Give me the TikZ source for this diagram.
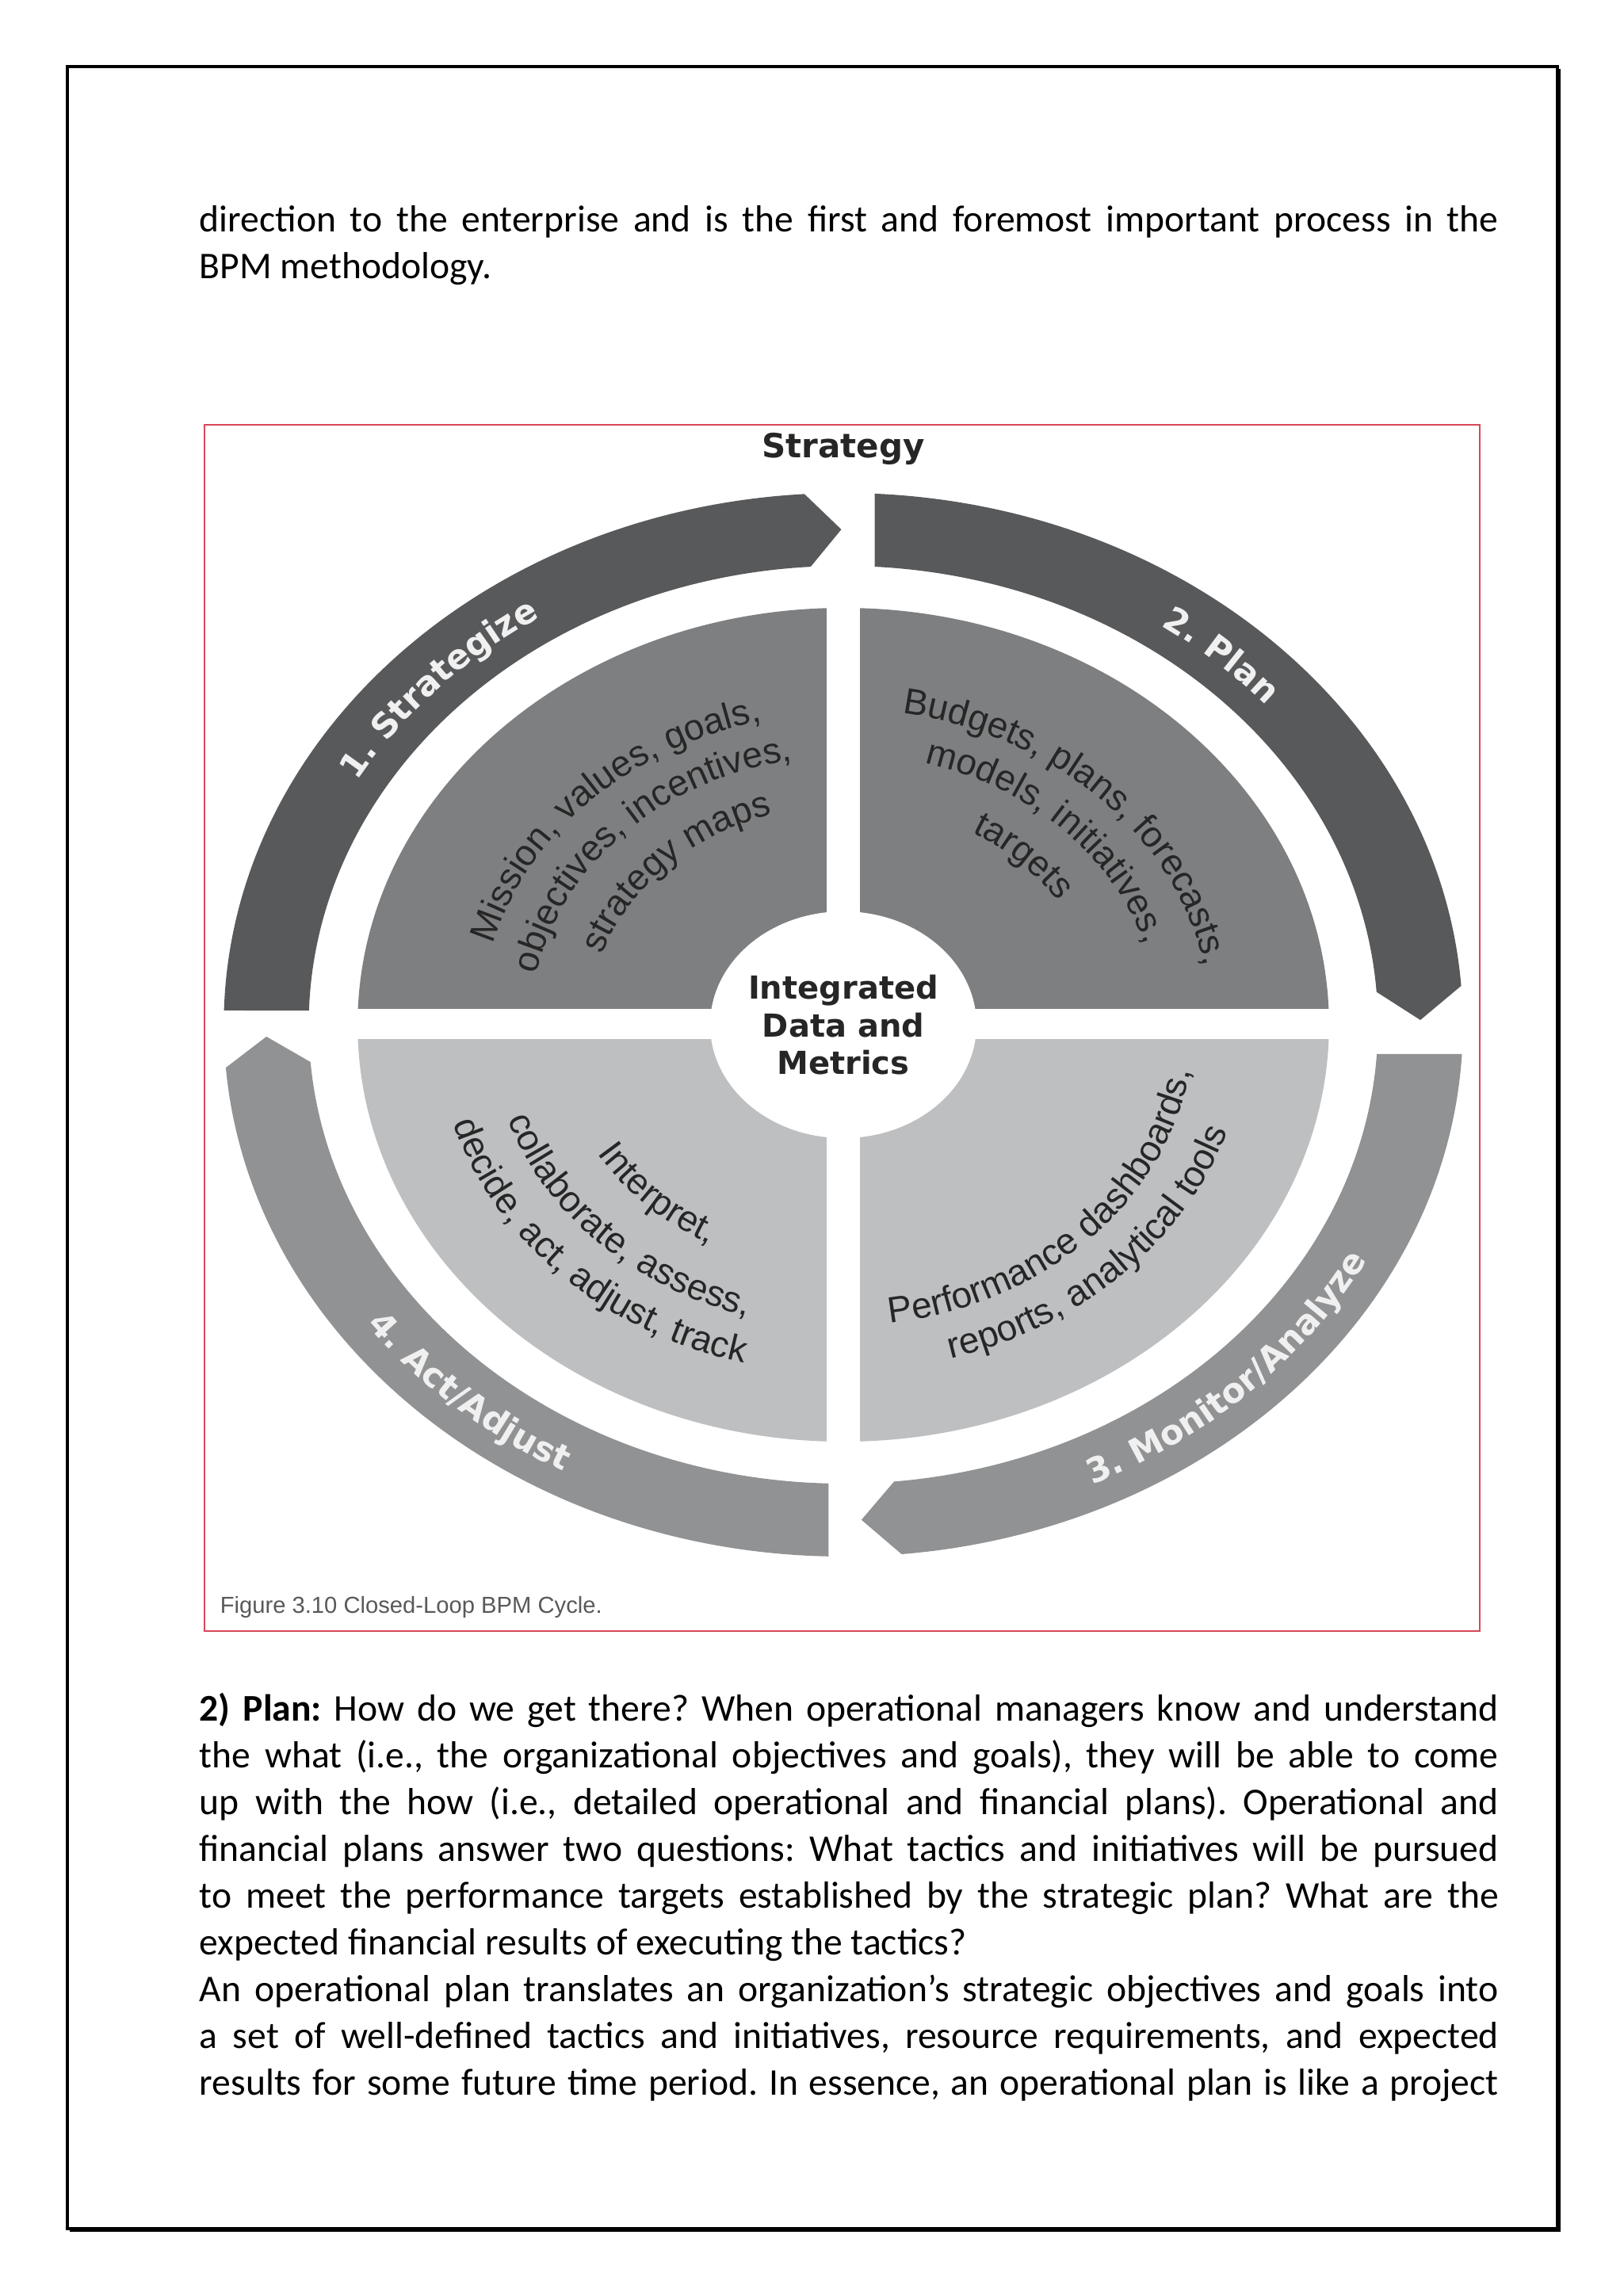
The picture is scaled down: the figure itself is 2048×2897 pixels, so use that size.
\documentclass[tikz,border=0pt]{standalone}
\usepackage{fontspec}
\setmainfont{Carlito}
\newfontfamily\ringfont{DejaVu Sans}
\newfontfamily\quadfont{Liberation Sans}
\usetikzlibrary{decorations.text}
\definecolor{ringdark}{RGB}{88,89,91}
\definecolor{ringmid}{RGB}{145,146,148}
\definecolor{quadtop}{RGB}{126,127,129}
\definecolor{quadbot}{RGB}{190,191,193}
\definecolor{ink}{RGB}{38,38,38}
\definecolor{ringwhite}{RGB}{240,240,240}
\definecolor{figred}{RGB}{214,72,88}
\tikzstyle{para} = [anchor=base west, inner sep=0pt, font=\frenchspacing\fontsize{11.9}{14}\selectfont]
\tikzstyle{hub} = [anchor=base, inner sep=0pt, text=ink, font=\ringfont\bfseries\fontsize{10}{12}\selectfont]
\tikzstyle{ringlabel} = [decorate, decoration={text along path, text align=center, text color=ringwhite}]
\tikzstyle{quadlabel} = [decorate, decoration={text along path, text align=center, text color=ink}]
\newcommand{\jl}[1]{\hbox to 409.75pt{#1}}
\newcommand{\rl}{\ringfont\bfseries\fontsize{10.75}{12}\selectfont}
\newcommand{\ql}{\quadfont\fontsize{11.5}{13}\selectfont}
\frenchspacing

\begin{document}
\begin{tikzpicture}[x=0.25pt, y=0.25pt]
  \useasboundingbox (0,0) rectangle (2048,-2897);
  \draw [line width=0.8pt] (85,-84) rectangle (1965,-2812);
  \draw [line width=0.5pt] (1967.5,-87) -- (1967.5,-2814.5) -- (88,-2814.5);

  % text above the figure
  \node (a) at (251,-293) [para] {\jl{direction to the enterprise and is the first and foremost important process in the}};
  \node (b) at (251,-352) [para] {BPM methodology.};

  % figure
  \draw [figred, line width=0.5pt] (258,-536) rectangle (1867,-2058);
  \node (s) at (1064,-578) [hub, font=\ringfont\bfseries\fontsize{10.5}{12}\selectfont] {Strategy};

  \begin{scope}[shift={(1064,-1293)}]
    % inner quarters
    \fill [quadtop] (0:612.8 and 526) arc [start angle=0, end angle=180, x radius=612.8, y radius=526] -- cycle;
    \fill [quadbot] (180:612.8 and 526) arc [start angle=180, end angle=360, x radius=612.8, y radius=526] -- cycle;
    \fill [white] (-21,-560) rectangle (21,560);
    \fill [white] (-660,-18) rectangle (660,20);
    \fill [white] (0,0) ellipse [x radius=168, y radius=143];

    % outer ring
    \fill [ringdark] (178.46:781.7 and 671) arc [start angle=178.46, end angle=93.6, x radius=781.7, y radius=671]
      -- (90.2:728.1 and 625) -- (93.5:674.5 and 579) arc [start angle=93.5, end angle=178.22, x radius=674.5, y radius=579] -- cycle;
    \fill [ringdark] (87.1:781.7 and 671) arc [start angle=87.1, end angle=4.2, x radius=781.7, y radius=671]
      -- (0.55:728.1 and 625) -- (4.1:674.5 and 579) arc [start angle=4.1, end angle=86.63, x radius=674.5, y radius=579] -- cycle;
    \fill [ringmid] (-3.16:781.7 and 671) arc [start angle=-3.16, end angle=-84.6, x radius=781.7, y radius=671]
      -- (-88.2:728.1 and 625) -- (-84.55:674.5 and 579) arc [start angle=-84.55, end angle=-3.66, x radius=674.5, y radius=579] -- cycle;
    \fill [ringmid] (268.63:781.7 and 671) arc [start angle=268.63, end angle=184.63, x radius=781.7, y radius=671]
      -- (181.37:728.1 and 625) -- (184.66:674.5 and 579) arc [start angle=184.66, end angle=268.42, x radius=674.5, y radius=579] -- cycle;

    \path [ringlabel, decoration={text={|\rl|1. Strategize}}] (177.7:710.7 and 610) arc [start angle=177.7, end angle=97.7, x radius=710.7, y radius=610];
    \path [ringlabel, decoration={text={|\rl|2. Plan}}] (86.8:710.7 and 610) arc [start angle=86.8, end angle=6.8, x radius=710.7, y radius=610];
    \path [ringlabel, decoration={text={|\rl|3. Monitor/Analyze}}] (-85:745.6 and 640) arc [start angle=-85, end angle=-5, x radius=745.6, y radius=640];
    \path [ringlabel, decoration={text={|\rl|4. Act/Adjust}}] (187.4:745.6 and 640) arc [start angle=187.4, end angle=267.4, x radius=745.6, y radius=640];

    % quarter texts
    \path [quadlabel, decoration={text={|\ql|Mission, values, goals,}}] (180:457.8 and 393) arc [start angle=180, end angle=90, x radius=457.8, y radius=393];
    \path [quadlabel, decoration={text={|\ql|objectives, incentives,}}] (180:393.8 and 338) arc [start angle=180, end angle=90, x radius=393.8, y radius=338];
    \path [quadlabel, decoration={text={|\ql|strategy maps}}] (180:321.5 and 276) arc [start angle=180, end angle=90, x radius=321.5, y radius=276];

    \path [quadlabel, decoration={text={|\ql|Budgets, plans, forecasts,}}] (90:463.7 and 398) arc [start angle=90, end angle=0, x radius=463.7, y radius=398];
    \path [quadlabel, decoration={text={|\ql|models, initiatives,}}] (90:398.4 and 342) arc [start angle=90, end angle=0, x radius=398.4, y radius=342];
    \path [quadlabel, decoration={text={|\ql|targets}}] (90:326.2 and 280) arc [start angle=90, end angle=0, x radius=326.2, y radius=280];

    \path [quadlabel, decoration={text={|\ql|Interpret,}}] (180:363.5 and 312) arc [start angle=180, end angle=270, x radius=363.5, y radius=312];
    \path [quadlabel, decoration={text={|\ql|collaborate, assess,}}] (180:445 and 382) arc [start angle=180, end angle=270, x radius=445, y radius=382];
    \path [quadlabel, decoration={text={|\ql|decide, act, adjust, track}}] (180:512.6 and 440) arc [start angle=180, end angle=270, x radius=512.6, y radius=440];

    \path [quadlabel, decoration={text={|\ql|Performance dashboards,}}] (270:442.7 and 380) arc [start angle=270, end angle=360, x radius=442.7, y radius=380];
    \path [quadlabel, decoration={text={|\ql|reports, analytical tools}}] (270:509.1 and 437) arc [start angle=270, end angle=360, x radius=509.1, y radius=437];

    \node (c) at (0,33) [hub] {Integrated};
    \node (d) at (0,-15) [hub] {Data and};
    \node (e) at (0,-62) [hub] {Metrics};
  \end{scope}

  \node (f) at (277,-2035) [anchor=base west, inner sep=0pt, text=black!65, font=\quadfont\fontsize{7.3}{9}\selectfont] {Figure 3.10 Closed-Loop BPM Cycle.};

  % text below the figure
  \node (g) at (251,-2171) [para] {\jl{\textbf{2) Plan:} How do we get there? When operational managers know and understand}};
  \node (h) at (251,-2230) [para] {\jl{the what (i.e., the organizational objectives and goals), they will be able to come}};
  \node (i) at (251,-2289) [para] {\jl{up with the how (i.e., detailed operational and financial plans). Operational and}};
  \node (j) at (251,-2348) [para] {\jl{financial plans answer two questions: What tactics and initiatives will be pursued}};
  \node (k) at (251,-2407) [para] {\jl{to meet the performance targets established by the strategic plan? What are the}};
  \node (l) at (251,-2466) [para] {expected financial results of executing the tactics?};
  \node (m) at (251,-2525) [para] {\jl{An operational plan translates an organization’s strategic objectives and goals into}};
  \node (n) at (251,-2584) [para] {\jl{a set of well-defined tactics and initiatives, resource requirements, and expected}};
  \node (o) at (251,-2643) [para] {\jl{results for some future time period. In essence, an operational plan is like a project}};
\end{tikzpicture}
\end{document}
